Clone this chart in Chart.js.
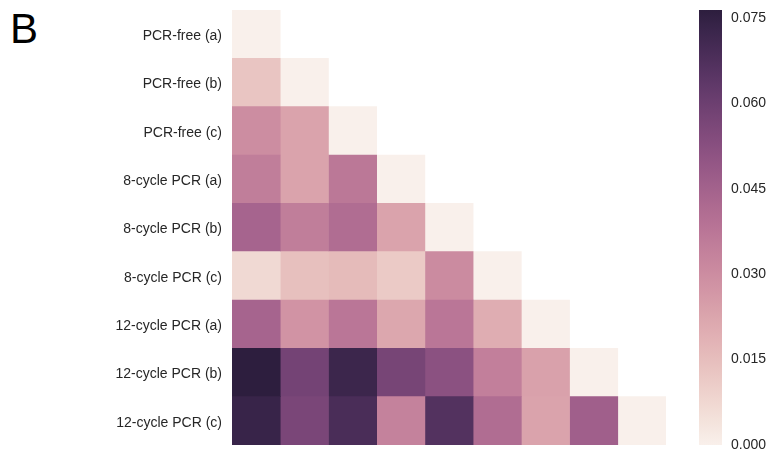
<!DOCTYPE html>
<html>
<head>
<meta charset="utf-8">
<script src="https://cdn.jsdelivr.net/npm/chart.js@4.4.0/dist/chart.umd.min.js"></script>
<style>
  body{margin:0;background:#fff;width:770px;height:452px;overflow:hidden;position:relative;font-family:"Liberation Sans",Arial,sans-serif;}
  #panel{position:absolute;left:10px;top:8px;font-size:42px;line-height:42px;color:#000;}
  #heat{position:absolute;left:0;top:0;}
  #cbar{position:absolute;left:680px;top:0;}
</style>
</head>
<body>
<div id="panel">B</div>
<canvas id="heat" width="680" height="452"></canvas>
<canvas id="cbar" width="90" height="452"></canvas>
<script>
/* lower-triangle distance heatmap + colorbar */
const samples=['PCR-free (a)','PCR-free (b)','PCR-free (c)','8-cycle PCR (a)','8-cycle PCR (b)','8-cycle PCR (c)','12-cycle PCR (a)','12-cycle PCR (b)','12-cycle PCR (c)'];
// row i holds values for columns 0..i
const row0=[0];
const row1=[0.013,0];
const row2=[0.030,0.023,0];
const row3=[0.035,0.023,0.037,0];
const row4=[0.044,0.035,0.041,0.023,0];
const row5=[0.007,0.0145,0.016,0.0115,0.0305,0];
const row6=[0.044,0.028,0.0375,0.022,0.0375,0.020,0];
const row7=[0.0764,0.058,0.0725,0.0573,0.052,0.0345,0.0237,0];
const row8=[0.0735,0.0565,0.0688,0.0336,0.0665,0.041,0.023,0.046,0];
const cbTicks=[0,0.015,0.030,0.045,0.060,0.075];
const vmax=0.0764;

const rows=[row0,row1,row2,row3,row4,row5,row6,row7,row8];

// seaborn cubehelix_palette(light=.95, dark=.15)
function cube(t){
  t=Math.max(0,Math.min(1,t));
  const x=0.95-0.8*t, a=0.8*x*(1-x)/2, phi=2*Math.PI*0.4*x;
  const c=Math.cos(phi),s=Math.sin(phi);
  const r=x+a*(-0.14861*c+1.78277*s), g=x+a*(-0.29227*c-0.90649*s), b=x+a*(1.97294*c);
  const f=v=>Math.round(255*Math.max(0,Math.min(1,v)));
  return 'rgb('+f(r)+','+f(g)+','+f(b)+')';
}

Chart.defaults.font.family='"Liberation Sans", Arial, sans-serif';
Chart.defaults.font.size=14;
Chart.defaults.color='#262626';

const datasets=samples.map((_,j)=>({
  label:samples[j],
  data:rows.map(r=>j<r.length?[j,j+1]:null),
  backgroundColor:rows.map(r=>j<r.length?cube(r[j]/vmax):'rgba(0,0,0,0)'),
  borderWidth:0,barPercentage:1,categoryPercentage:1,grouped:false
}));

new Chart(document.getElementById('heat'),{
  type:'bar',
  data:{labels:samples,datasets:datasets},
  options:{
    indexAxis:'y',responsive:false,animation:false,
    layout:{padding:{top:10,bottom:7,right:14,left:0}},
    plugins:{legend:{display:false},tooltip:{enabled:false}},
    scales:{
      x:{type:'linear',min:0,max:9,display:false},
      y:{grid:{display:false,drawTicks:false},border:{display:false},
         ticks:{padding:10,labelOffset:2,color:'#262626',font:{size:14}},
         afterFit:s=>{s.width=232;s.paddingTop=0;s.paddingBottom=0;}}
    }
  }
});

new Chart(document.getElementById('cbar'),{
  type:'bar',
  data:{labels:[''],datasets:[{
    data:[[0,vmax]],borderWidth:0,barPercentage:1,categoryPercentage:1,
    backgroundColor:ctx=>{
      const a=ctx.chart.chartArea;if(!a)return cube(0.5);
      const g=ctx.chart.ctx.createLinearGradient(0,a.bottom,0,a.top);
      for(let k=0;k<=20;k++)g.addColorStop(k/20,cube(k/20));
      return g;
    }
  }]},
  options:{
    responsive:false,animation:false,
    layout:{padding:{top:10,bottom:7,left:19,right:0}},
    plugins:{legend:{display:false},tooltip:{enabled:false}},
    scales:{
      x:{display:false},
      y:{position:'right',min:0,max:vmax,
         grid:{display:false,drawTicks:false},border:{display:false},
         ticks:{padding:9,color:'#262626',font:{size:14},callback:v=>v.toFixed(3)},
         afterBuildTicks:s=>{s.ticks=cbTicks.map(v=>({value:v}));},
         afterFit:s=>{s.width=48;s.paddingTop=0;s.paddingBottom=0;}}
    }
  }
});
</script>
</body>
</html>
